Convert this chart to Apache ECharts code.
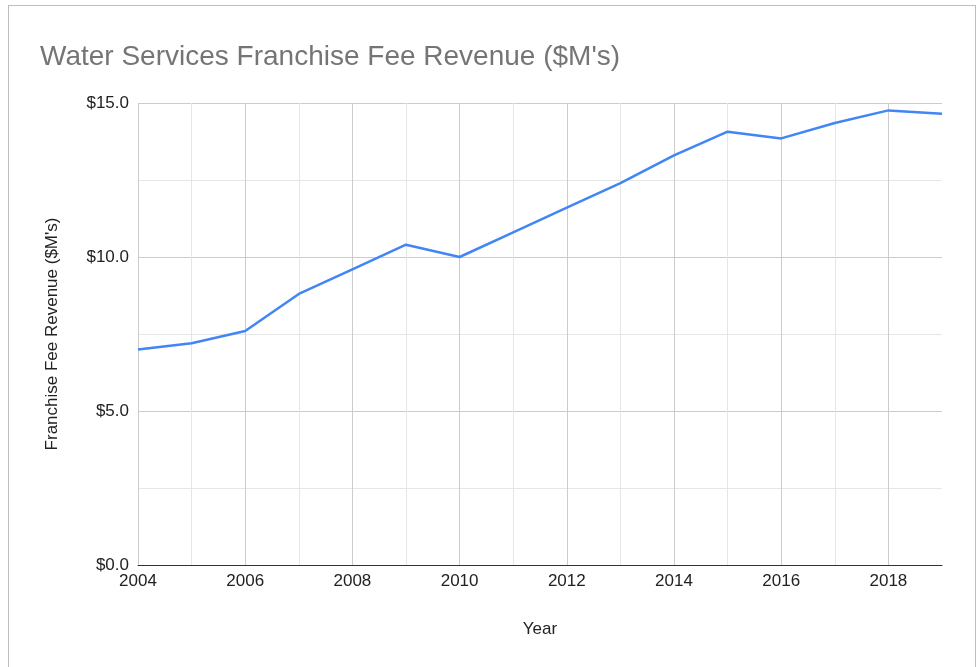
<!DOCTYPE html>
<html>
<head>
<meta charset="utf-8">
<title>Water Services Franchise Fee Revenue</title>
<script src="https://cdn.jsdelivr.net/npm/echarts@6/dist/echarts.min.js"></script>
<style>
    html, body { margin: 0; padding: 0; background: #fff; }
    #chart { position: absolute; left: 0; top: 0; width: 976px; height: 667px; }
    #frame {
        position: absolute; left: 8px; top: 5px; width: 966px; height: 700px;
        border: 1px solid #bdbdbd; pointer-events: none;
    }
</style>
</head>
<body>
<div id="chart"></div>
<div id="frame"></div>
<script>
// ===== 数据 =====
var years = ['2004', '2005', '2006', '2007', '2008', '2009', '2010', '2011',
             '2012', '2013', '2014', '2015', '2016', '2017', '2018', '2019'];
var revenue = [7.0, 7.2, 7.6, 8.8, 9.6, 10.4, 10.0, 10.8,
               11.6, 12.4, 13.3, 14.07, 13.85, 14.35, 14.76, 14.65];
var yTicks = [0, 5, 10, 15];

var font = 'Arial, "Liberation Sans", sans-serif';

var chart = echarts.init(document.getElementById('chart'));
chart.setOption({
    animation: false,
    backgroundColor: '#fff',
    title: {
        text: "Water Services Franchise Fee Revenue ($M's)",
        left: 35,
        top: 38,
        textStyle: { color: '#757575', fontSize: 28, fontWeight: 'normal', fontFamily: font }
    },
    grid: { left: 138, right: 34, top: 103, bottom: 102 },
    xAxis: {
        type: 'category',
        data: years,
        boundaryGap: false,
        name: 'Year',
        nameLocation: 'middle',
        nameGap: 56,
        nameTextStyle: { color: '#222', fontSize: 17, fontFamily: font },
        axisLine: { lineStyle: { color: '#333', width: 1 } },
        axisTick: { show: false },
        axisLabel: { interval: 1, color: '#222', fontSize: 17, fontFamily: font, margin: 8 },
        // 2004–2018 竖线：偶数年深、奇数年浅；最右侧不画
        splitLine: {
            show: true,
            interval: function (i) { return i < years.length - 1; },
            lineStyle: { color: ['#cccccc', '#e6e6e6'], width: 1 }
        }
    },
    yAxis: {
        type: 'value',
        min: yTicks[0],
        max: yTicks[yTicks.length - 1],
        interval: 5,
        name: "Franchise Fee Revenue ($M's)",
        nameLocation: 'middle',
        nameGap: 77,
        nameTextStyle: { color: '#222', fontSize: 17, fontFamily: font },
        axisLine: { show: false },
        axisTick: { show: false },
        axisLabel: {
            color: '#222', fontSize: 17, fontFamily: font, margin: 9,
            formatter: function (v) { return '$' + v.toFixed(1); }
        },
        splitLine: { lineStyle: { color: '#cccccc', width: 1 } },
        minorTick: { show: false, splitNumber: 2 },
        minorSplitLine: { show: true, lineStyle: { color: '#e6e6e6', width: 1 } }
    },
    series: [{
        name: 'Franchise Fee Revenue',
        type: 'line',
        data: revenue,
        symbol: 'none',
        lineStyle: { color: '#4285f4', width: 2.5 },
        itemStyle: { color: '#4285f4' }
    }]
});
</script>
</body>
</html>
